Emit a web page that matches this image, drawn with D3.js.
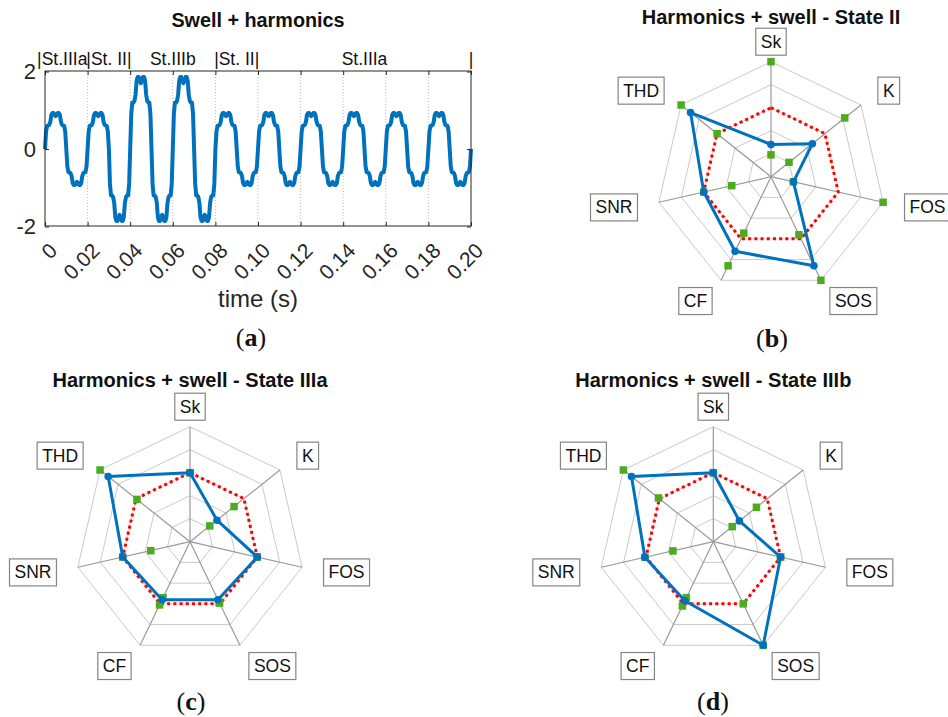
<!DOCTYPE html>
<html>
<head>
<meta charset="utf-8">
<script src="https://cdn.jsdelivr.net/npm/d3@7"></script>
<style>
  body { margin: 0; background: #fff; }
  svg text { font-family: "Liberation Sans", Arial, Helvetica, sans-serif; }
</style>
</head>
<body>
<svg id="fig" width="948" height="717"></svg>
<script>
// ---- Panel (a): swell + harmonics waveform ----
// one positive half-cycle of the distorted wave, sampled every 0.5 ms
const halfCycleStep = 0.0005;
const halfCycleShape = [0, 0.45, 0.6, 0.6, 0.62, 0.7, 0.88, 0.93, 0.93, 0.88, 0.85,
                        0.88, 0.93, 0.93, 0.88, 0.7, 0.62, 0.6, 0.6, 0.45, 0];
// amplitude of each successive half-cycle (swell doubles it)
const halfCycleGain = [1, 1, 1, 2, 2, 2, 2, 2, 1, 1, 1, 1, 1, 1, 1, 1, 1, 1, 1, 1];

const timeTicks = [0, 0.02, 0.04, 0.06, 0.08, 0.10, 0.12, 0.14, 0.16, 0.18, 0.20];
const timeTickLabels = ["0", "0.02", "0.04", "0.06", "0.08", "0.10", "0.12", "0.14", "0.16", "0.18", "0.20"];
const ampTicks = [-2, 0, 2];

const stageLabels = ["|St.IIIa", "|St. II|", "St.IIIb", "|St. II|", "St.IIIa", "|"];
const stageTimes = [0.0081, 0.03, 0.06, 0.09, 0.15, 0.20];

// ---- Panels (b)-(d): radar charts of the indices ----
const radarAxes = ["Sk", "K", "FOS", "SOS", "CF", "SNR", "THD"];
const referenceLevel = [0.6, 0.6, 0.6, 0.6, 0.6, 0.6, 0.6];

const stateII     = [0.28, 0.46, 0.20, 0.86, 0.72, 0.60, 0.895];
const stateIIHigh = [1.00, 0.82, 1.00, 1.00, 0.86, 0.60, 1.00];
const stateIILow  = [0.19, 0.20, 0.20, 0.56, 0.545, 0.35, 0.60];

const stateIIIa     = [0.60, 0.30, 0.60, 0.56, 0.56, 0.60, 0.91];
const stateIIIaHigh = [0.60, 0.49, 0.60, 0.59, 0.61, 0.60, 1.00];
const stateIIIaLow  = [0.60, 0.22, 0.60, 0.59, 0.54, 0.35, 0.59];

const stateIIIb     = [0.60, 0.29, 0.60, 1.00, 0.57, 0.61, 0.91];
const stateIIIbHigh = [0.60, 0.48, 0.60, 1.00, 0.62, 0.61, 1.00];
const stateIIIbLow  = [0.60, 0.21, 0.60, 0.60, 0.54, 0.36, 0.61];

const radarRings = [0.2, 0.4, 0.6, 0.8, 1.0];

const BLUE = "#0072BD", RED = "#ff0000", GREEN = "#4dab1f", INK = "#262626";

const svg = d3.select("#fig");

// build the waveform samples from the half-cycle shape and gains
const signal = [];
halfCycleGain.forEach((g, k) => {
  const sign = k % 2 === 0 ? 1 : -1;
  halfCycleShape.forEach((v, i) => {
    if (k > 0 && i === 0) return;
    signal.push({ t: k * 0.01 + i * halfCycleStep, v: sign * g * v });
  });
});

function panelA() {
  const box = { left: 45, right: 471, top: 71, bottom: 226 };
  const x = d3.scaleLinear().domain([0, 0.2]).range([box.left, box.right]);
  const y = d3.scaleLinear().domain([-2, 2]).range([box.bottom + 0.5, box.top + 0.5]);
  const g = svg.append("g");

  // dotted vertical grid
  g.append("g").selectAll("line").data(timeTicks.slice(1, -1)).join("line")
    .attr("x1", d => x(d)).attr("x2", d => x(d))
    .attr("y1", box.top).attr("y2", box.bottom)
    .attr("stroke", "#b8b8b8").attr("stroke-width", 1).attr("stroke-dasharray", "1,2");

  // waveform
  g.append("path").datum(signal)
    .attr("d", d3.line().x(d => x(d.t)).y(d => y(d.v)))
    .attr("fill", "none").attr("stroke", BLUE).attr("stroke-width", 4)
    .attr("stroke-linejoin", "round");

  // axes
  const xAxis = g.append("g").attr("transform", `translate(0,${box.bottom})`)
    .call(d3.axisBottom(x).tickValues(timeTicks).tickFormat((d, i) => timeTickLabels[i])
      .tickSizeInner(-4).tickSizeOuter(0));
  xAxis.selectAll("text")
    .attr("x", null).attr("y", null).attr("dy", null)
    .attr("transform", "translate(13,26) rotate(-45)")
    .style("text-anchor", "end").style("font-size", "21px").attr("fill", INK);
  g.append("g").attr("transform", `translate(0,${box.top})`)
    .call(d3.axisTop(x).tickValues(timeTicks).tickFormat("").tickSizeInner(-4).tickSizeOuter(0));

  const yAxis = g.append("g").attr("transform", `translate(${box.left},0)`)
    .call(d3.axisLeft(y).tickValues(ampTicks).tickFormat(d => String(d))
      .tickSizeInner(-4).tickSizeOuter(0).tickPadding(9));
  yAxis.selectAll("text").style("font-size", "22px").attr("fill", INK);
  g.append("g").attr("transform", `translate(${box.right},0)`)
    .call(d3.axisRight(y).tickValues(ampTicks).tickFormat("").tickSizeInner(-4).tickSizeOuter(0));

  g.selectAll(".domain").remove();
  g.selectAll(".tick line").attr("stroke", INK);
  g.append("rect").attr("x", box.left).attr("y", box.top)
    .attr("width", box.right - box.left).attr("height", box.bottom - box.top)
    .attr("fill", "none").attr("stroke", INK).attr("stroke-width", 1);

  // state annotations above the plot
  g.append("g").selectAll("text").data(stageLabels).join("text")
    .attr("x", (d, i) => x(stageTimes[i])).attr("y", 65)
    .attr("text-anchor", "middle").style("font-size", "17.5px").attr("fill", "#111")
    .text(d => d);

  g.append("text").attr("x", 258).attr("y", 27).attr("text-anchor", "middle")
    .style("font-size", "19.8px").style("font-weight", "bold").attr("fill", "#111")
    .text("Swell + harmonics");
  g.append("text").attr("x", 258).attr("y", 307).attr("text-anchor", "middle")
    .style("font-size", "24px").attr("fill", INK).text("time (s)");
}

function panelLetter(cx, baseY, letter) {
  const t = svg.append("text").attr("x", cx).attr("y", baseY).attr("text-anchor", "middle")
    .style("font-family", "'Liberation Serif', 'Times New Roman', serif")
    .style("font-size", "26px").attr("fill", "#111");
  t.append("tspan").text("(");
  t.append("tspan").style("font-weight", "bold").text(letter);
  t.append("tspan").text(")");
}

function radar(cx, cy, title, titleY, values, high, low) {
  const R = 115;
  const r = d3.scaleLinear().domain([0, 1]).range([0, R]);
  const n = radarAxes.length;
  const ang = i => i * 2 * Math.PI / n;
  const px = (i, v) => cx + r(v) * Math.sin(ang(i));
  const py = (i, v) => cy - r(v) * Math.cos(ang(i));
  const g = svg.append("g");
  const ring = d3.lineRadial().angle((d, i) => ang(i)).radius(d => r(d)).curve(d3.curveLinearClosed);

  // rings
  g.append("g").attr("transform", `translate(${cx},${cy})`).selectAll("path")
    .data(radarRings).join("path")
    .attr("d", lv => ring(radarAxes.map(() => lv)))
    .attr("fill", "none").attr("stroke", "#cacaca").attr("stroke-width", 1);
  // spokes
  g.append("g").selectAll("line").data(radarAxes).join("line")
    .attr("x1", cx).attr("y1", cy)
    .attr("x2", (d, i) => px(i, 1)).attr("y2", (d, i) => py(i, 1))
    .attr("stroke", "#9a9a9a").attr("stroke-width", 1.2);

  // reference level (dotted red)
  g.append("path").attr("transform", `translate(${cx},${cy})`)
    .attr("d", ring(referenceLevel))
    .attr("fill", "none").attr("stroke", RED).attr("stroke-width", 3)
    .attr("stroke-dasharray", "3,3.2");

  // state limits (green squares)
  const sq = 7.5;
  [high, low].forEach(set => {
    g.append("g").selectAll("rect").data(set).join("rect")
      .attr("x", (d, i) => px(i, d) - sq / 2).attr("y", (d, i) => py(i, d) - sq / 2)
      .attr("width", sq).attr("height", sq).attr("fill", GREEN);
  });

  // measured state (blue)
  g.append("path").attr("transform", `translate(${cx},${cy})`)
    .attr("d", ring(values))
    .attr("fill", "none").attr("stroke", BLUE).attr("stroke-width", 3)
    .attr("stroke-linejoin", "round");
  g.append("g").selectAll("circle").data(values).join("circle")
    .attr("cx", (d, i) => px(i, d)).attr("cy", (d, i) => py(i, d))
    .attr("r", 3.8).attr("fill", BLUE);

  // boxed axis labels
  radarAxes.forEach((name, i) => {
    const s = Math.sin(ang(i)), c = Math.cos(ang(i));
    const ax = cx + 1.2 * R * s, ay = cy - 1.2 * R * c + (Math.abs(s) < 0.01 ? 3 : 0);
    const lg = g.append("g");
    const rect = lg.append("rect");
    const txt = lg.append("text").attr("text-anchor", "middle")
      .style("font-size", "17.5px").attr("fill", "#111").text(name);
    const w = txt.node().getComputedTextLength() + 10, h = 27;
    const side = Math.abs(s) < 0.01 ? 0 : Math.sign(s);
    const bx = ax + side * (w / 2 - 1);
    txt.attr("x", bx).attr("y", ay + 6);
    rect.attr("x", bx - w / 2).attr("y", ay - h / 2).attr("width", w).attr("height", h)
      .attr("fill", "#fff").attr("stroke", "#858585").attr("stroke-width", 1.2);
  });

  g.append("text").attr("x", cx).attr("y", titleY).attr("text-anchor", "middle")
    .style("font-size", "20px").style("font-weight", "bold").attr("fill", "#111")
    .text(title);
}

panelA();
panelLetter(251, 346, "a");

radar(771, 176.7, "Harmonics + swell - State II", 24, stateII, stateIIHigh, stateIILow);
panelLetter(772, 347, "b");

radar(190, 541.7, "Harmonics + swell - State IIIa", 387, stateIIIa, stateIIIaHigh, stateIIIaLow);
panelLetter(191, 710, "c");

radar(713.3, 541.7, "Harmonics + swell - State IIIb", 387, stateIIIb, stateIIIbHigh, stateIIIbLow);
panelLetter(713, 710, "d");
</script>
</body>
</html>
